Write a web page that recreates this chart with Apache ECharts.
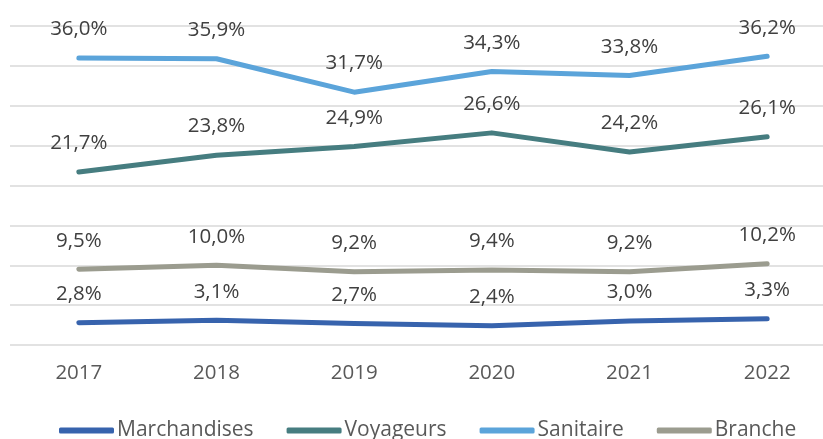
<!DOCTYPE html>
<html>
<head>
<meta charset="utf-8">
<script src="https://cdn.jsdelivr.net/npm/echarts@6/dist/echarts.min.js"></script>
<style>html,body{margin:0;padding:0;background:#fff;}#c{width:823px;height:439px;}</style>
</head>
<body>
<div id="c"></div>
<script>
const years = ['2017', '2018', '2019', '2020', '2021', '2022'];
const marchandises = [2.8, 3.1, 2.7, 2.4, 3.0, 3.3];
const voyageurs = [21.7, 23.8, 24.9, 26.6, 24.2, 26.1];
const sanitaire = [36.0, 35.9, 31.7, 34.3, 33.8, 36.2];
const branche = [9.5, 10.0, 9.2, 9.4, 9.2, 10.2];

const seriesDefs = [
  { name: 'Marchandises', data: marchandises, color: '#3763AD' },
  { name: 'Voyageurs', data: voyageurs, color: '#467D80' },
  { name: 'Sanitaire', data: sanitaire, color: '#5BA4DA' },
  { name: 'Branche', data: branche, color: '#9B9C8F' }
];
const FONT = '"Open Sans", sans-serif';
const chart = echarts.init(document.getElementById('c'), null, { renderer: 'canvas' });
chart.setOption({
  animation: false,
  backgroundColor: '#ffffff',
  grid: { left: 10, width: 826, top: 26, height: 319, containLabel: false, outerBoundsMode: 'none' },
  xAxis: {
    type: 'category', data: years, boundaryGap: true,
    axisLine: { show: false }, axisTick: { show: false },
    axisLabel: { color: '#595959', fontSize: 20.5, fontFamily: FONT, margin: 18 }
  },
  yAxis: {
    type: 'value', min: 0, max: 40, interval: 5,
    axisLabel: { show: false }, axisLine: { show: false }, axisTick: { show: false },
    splitLine: { lineStyle: { color: '#D9D9D9', width: 1.5 } }
  },
  legend: {
    left: 54, top: 415, itemWidth: 55, itemHeight: 6, itemGap: 33,
    icon: 'roundRect',
    textStyle: { color: '#595959', fontSize: 21, fontFamily: FONT, padding: [0, 0, 0, -2] },
    data: seriesDefs.map(s => s.name)
  },
  series: seriesDefs.map(s => ({
    name: s.name, type: 'line', data: s.data,
    symbol: 'circle', symbolSize: 0.1, showSymbol: true,
    itemStyle: { color: s.color },
    lineStyle: { color: s.color, width: 5, cap: 'round', join: 'round' },
    label: {
      show: true, position: 'top', distance: 18,
      color: '#404040', fontSize: 20.5, fontFamily: FONT,
      formatter: p => p.value.toFixed(1).replace('.', ',') + '%'
    }
  }))
});
</script>
</body>
</html>
